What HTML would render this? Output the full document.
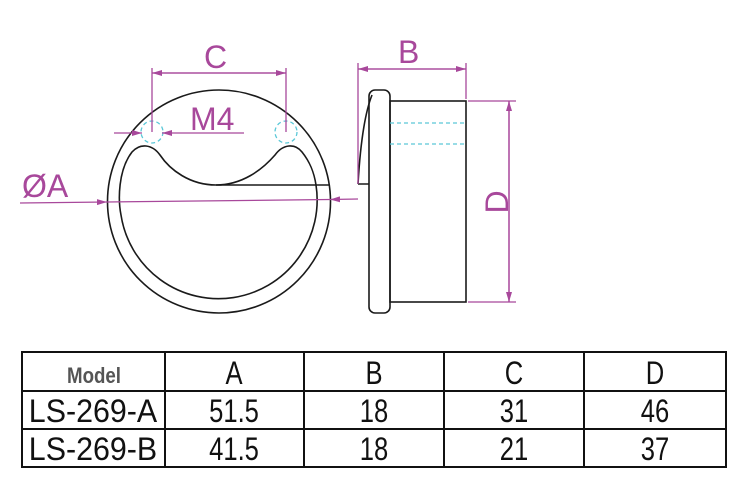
<!DOCTYPE html>
<html><head><style>body{margin:0;background:#fff}svg{display:block}</style></head><body>
<svg width="750" height="500" viewBox="0 0 750 500" xmlns="http://www.w3.org/2000/svg">
<defs>
<marker id="ar" viewBox="0 0 10 6" refX="10" refY="3" markerWidth="10" markerHeight="6" orient="auto" markerUnits="userSpaceOnUse"><path d="M0,0L10,3L0,6z" fill="#a8489b"/></marker>
</defs>
<g fill="none" stroke="#1a1a1a" stroke-width="1.6">
<circle cx="219" cy="201.5" r="111.5"/>
<path d="M330,185 L216,185 C190,185 170,170 160,155 C152,144 140,143 132,152 C118,170 118,200 121,215 A98,98 0 1 0 316,185"/>
<path d="M216,185 C242,185 262,170 275,155 C283,144 295,143 302,152 C310,162 314,172 316,185"/>
<rect x="369" y="90" width="21" height="223" rx="6"/>
<rect x="390" y="101" width="76" height="201"/>
<path d="M358,184 L369,184 M358,184 C360,150 364,115 372,95"/>
</g>
<g fill="none" stroke="#5ac8d8" stroke-width="1.3" stroke-dasharray="4,3">
<circle cx="152" cy="132" r="11"/><circle cx="286" cy="132" r="11"/>
<line x1="390" y1="123" x2="466" y2="123"/><line x1="390" y1="144" x2="466" y2="144"/>
</g>
<g stroke="#a8489b" stroke-width="1.3" fill="none">
<line x1="152" y1="68" x2="152" y2="132"/><line x1="286" y1="68" x2="286" y2="132"/>
<line x1="152" y1="73" x2="286" y2="73" marker-end="url(#ar)"/><line x1="286" y1="73" x2="152" y2="73" marker-end="url(#ar)"/>
<line x1="114" y1="133" x2="142" y2="133" marker-end="url(#ar)"/><line x1="244" y1="133" x2="162" y2="133" marker-end="url(#ar)"/>
<line x1="20" y1="203" x2="107" y2="202" marker-end="url(#ar)"/><line x1="358" y1="199" x2="330" y2="199.5" marker-end="url(#ar)"/>
<line x1="107" y1="202" x2="330" y2="199.5"/>
<line x1="358" y1="63" x2="358" y2="184"/><line x1="466" y1="63" x2="466" y2="99"/>
<line x1="358" y1="69" x2="466" y2="69" marker-end="url(#ar)"/><line x1="466" y1="69" x2="358" y2="69" marker-end="url(#ar)"/>
<line x1="468" y1="101" x2="516" y2="101"/><line x1="468" y1="302" x2="516" y2="302"/>
<line x1="509" y1="101" x2="509" y2="302" marker-end="url(#ar)"/><line x1="509" y1="302" x2="509" y2="101" marker-end="url(#ar)"/>
</g>
<g fill="#a8489b" font-family="Liberation Sans, sans-serif" font-size="32">
<text x="204" y="68">C</text>
<text x="190" y="130">M4</text>
<text x="22" y="197">ØA</text>
<text x="398" y="63">B</text>
<text transform="translate(508,202) rotate(-90)" text-anchor="middle">D</text>
</g>
<g fill="none" stroke="#111" stroke-width="2">
<rect x="22" y="352" width="704" height="115"/>
<line x1="22" y1="391" x2="726" y2="391"/><line x1="22" y1="429" x2="726" y2="429"/>
<line x1="165" y1="352" x2="165" y2="467"/><line x1="304" y1="352" x2="304" y2="467"/>
<line x1="444" y1="352" x2="444" y2="467"/><line x1="584" y1="352" x2="584" y2="467"/>
</g>
<g font-family="Liberation Sans, sans-serif" font-size="32" fill="#111" text-anchor="middle">
<text transform="translate(94,383) scale(0.85,1)" font-size="22" font-weight="bold" fill="#555">Model</text>
<text transform="translate(234,384) scale(0.8,1)">A</text><text transform="translate(374,384) scale(0.8,1)">B</text><text transform="translate(514,384) scale(0.8,1)">C</text><text transform="translate(655,384) scale(0.8,1)">D</text>
<text transform="translate(93,422) scale(0.95,1)">LS-269-A</text>
<text transform="translate(234,422) scale(0.8,1)">51.5</text><text transform="translate(374,422) scale(0.8,1)">18</text><text transform="translate(514,422) scale(0.8,1)">31</text><text transform="translate(655,422) scale(0.8,1)">46</text>
<text transform="translate(93,460) scale(0.95,1)">LS-269-B</text>
<text transform="translate(234,460) scale(0.8,1)">41.5</text><text transform="translate(374,460) scale(0.8,1)">18</text><text transform="translate(514,460) scale(0.8,1)">21</text><text transform="translate(655,460) scale(0.8,1)">37</text>
</g>
</svg>
</body></html>
